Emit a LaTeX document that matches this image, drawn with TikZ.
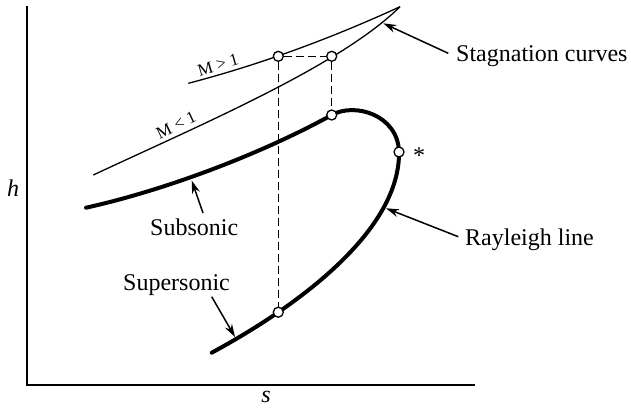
\documentclass[tikz,border=0pt]{standalone}
\usepackage{fontspec}
\setmainfont{Liberation Serif}
\usetikzlibrary{arrows.meta}
\begin{document}
\begin{tikzpicture}[x=1pt,y=-1pt,
  thin curve/.style={line width=1.3pt},
  thick curve/.style={line width=4pt,line cap=round},
  axisline/.style={line width=2.3pt},
  guide/.style={line width=1.3pt,dash pattern=on 8pt off 4pt},
  statept/.style={circle,draw,line width=1.3pt,fill=white,inner sep=0pt,minimum size=10pt},
  lbl/.style={font=\fontsize{24}{28}\selectfont,inner sep=0pt},
  mlbl/.style={font=\fontsize{17}{20}\selectfont,inner sep=0pt},
  pointer/.style={line width=1.5pt,-{Stealth[length=13pt,width=8pt]}}]
\useasboundingbox (0,0) rectangle (631,408);
% axes
\coordinate (ytop) at (27,6);
\coordinate (orig) at (27,385);
\coordinate (xend) at (475,385);
\draw[axisline] (ytop) -- (orig) -- (xend);
\node[lbl,font=\fontsize{24}{28}\selectfont\itshape] (hlab) at (13,188) {h};
\node[lbl,font=\fontsize{24}{28}\selectfont\itshape] (slab) at (266,397) {s};
% stagnation curves
\draw[thin curve] (188.3,83.3) .. controls (258.3,65.1) and (330,38.9) .. (400,6.7);
\draw[thin curve] (93.3,175) .. controls (200,125) and (340,66) .. (400,6.7);
% Rayleigh line
\draw[thick curve] (86,207.7) .. controls (166,190) and (262,153.5) .. (331.7,115)
  .. controls (355,102) and (398,115) .. (399,152)
  .. controls (400,230) and (300,305) .. (211.7,352.7);
% state points
\node[statept] (pA) at (278.3,56.3) {};
\node[statept] (pB) at (331.7,56.3) {};
\node[statept] (pC) at (331.7,115) {};
\node[statept] (pD) at (278.3,312.2) {};
\node[statept] (pS) at (399,152) {};
\draw[guide] (pA) -- (pB);
\draw[guide] (pA) -- (pD);
\draw[guide] (pB) -- (pC);
\node[lbl] (star) at (419,156) {*};
% curve labels
\node[mlbl,rotate=16] (mgt) at (218,65) {M > 1};
\node[mlbl,rotate=25.6] (mlt) at (176,125) {M < 1};
% annotation labels
\node[lbl,anchor=base west] (stag) at (456,61.7) {Stagnation curves};
\node[lbl,anchor=base west] (rayl) at (465,245) {Rayleigh line};
\node[lbl,anchor=base west] (subs) at (150,235) {Subsonic};
\node[lbl,anchor=base west] (sups) at (123,290) {Supersonic};
% pointer targets
\coordinate (tStag) at (383.3,23.3);
\coordinate (tRayl) at (386,208.3);
\coordinate (tSubs) at (191.7,180.5);
\coordinate (tSups) at (235,337);
\coordinate (fStag) at (448.3,53.3);
\coordinate (fRayl) at (458.3,236.7);
\coordinate (fSubs) at (203,213);
\coordinate (fSups) at (211.7,296.7);
\draw[pointer] (fStag) -- (tStag);
\draw[pointer] (fRayl) -- (tRayl);
\draw[pointer] (fSubs) -- (tSubs);
\draw[pointer] (fSups) -- (tSups);
\end{tikzpicture}
\end{document}
